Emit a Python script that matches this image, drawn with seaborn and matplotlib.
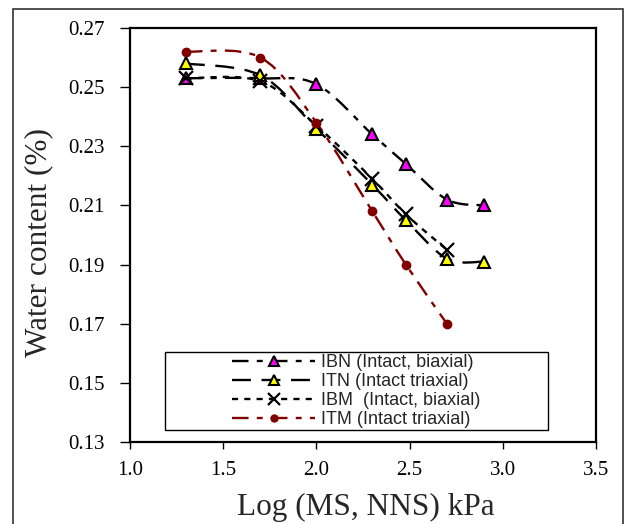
import numpy as np
import pandas as pd
import matplotlib
matplotlib.use("Agg")
import matplotlib.pyplot as plt
import seaborn as sns
from matplotlib.path import Path
from matplotlib.patches import PathPatch, Rectangle
from matplotlib.lines import Line2D

# ---- data ----
x7 = [1.30, 1.70, 2.00, 2.30, 2.48, 2.70, 2.90]
x6 = [1.30, 1.70, 2.00, 2.30, 2.48, 2.70]
ibn = [0.253, 0.253, 0.251, 0.234, 0.224, 0.212, 0.210]
itn = [0.258, 0.254, 0.236, 0.217, 0.205, 0.192, 0.191]
ibm = [0.253, 0.252, 0.237, 0.219, 0.207, 0.195]
itm = [0.262, 0.260, 0.238, 0.208, 0.190, 0.170]
labels = ["IBN (Intact, biaxial)", "ITN (Intact triaxial)",
          "IBM  (Intact, biaxial)", "ITM (Intact triaxial)"]
xticks = [1.0, 1.5, 2.0, 2.5, 3.0, 3.5]
yticks = [0.13, 0.15, 0.17, 0.19, 0.21, 0.23, 0.25, 0.27]

sns.set_theme(style="white")
plt.rcParams['font.family'] = ['Liberation Serif', 'DejaVu Serif']

fig = plt.figure(figsize=(6.3, 5.24), dpi=100)
ax = fig.add_axes([130/630, 82/524, 466/630, 414/524])

def smooth_path(xs, ys):
    p = np.column_stack([xs, ys]).astype(float)
    n = len(p)
    verts = [p[0]]
    codes = [Path.MOVETO]
    for i in range(n - 1):
        p0 = p[i - 1] if i > 0 else p[i]
        p1 = p[i]
        p2 = p[i + 1]
        p3 = p[i + 2] if i + 2 < n else p[i + 1]
        c1 = p1 + (p2 - p0) / 6.0
        c2 = p2 - (p3 - p1) / 6.0
        verts += [c1, c2, p2]
        codes += [Path.CURVE4] * 3
    return Path(verts, codes)

styles = [
    dict(color="black", ls=(0, (7, 3.5, 2.5, 3.5)), lw=1.7, marker="^", mfc="#ff00ff", mec="black", ms=8, mew=1.5),
    dict(color="black", ls=(0, (8, 4.5)), lw=1.7, marker="^", mfc="#ffff00", mec="black", ms=8, mew=1.5),
    dict(color="black", ls=(0, (2.6, 2.6)), lw=1.7, marker="x", mfc="black", mec="black", ms=10, mew=1.6),
    dict(color="#800000", ls=(0, (7, 3.5, 2.5, 3.5)), lw=1.7, marker="o", mfc="#800000", mec="#800000", ms=6, mew=1),
]
series = [(x7, ibn), (x7, itn), (x6, ibm), (x6, itm)]

handles = []
for (xs, ys), st, lab in zip(series, styles, labels):
    patch = PathPatch(smooth_path(xs, ys), fill=False, edgecolor=st["color"],
                      linestyle=st["ls"], lw=st["lw"], zorder=2)
    ax.add_patch(patch)
    df = pd.DataFrame({"x": xs, "y": ys})
    sns.lineplot(data=df, x="x", y="y", ax=ax, linestyle="none",
                 marker=st["marker"], markersize=st["ms"],
                 markerfacecolor=st["mfc"], markeredgecolor=st["mec"],
                 markeredgewidth=st["mew"], color=st["color"], zorder=3)
    handles.append(Line2D([], [], color=st["color"], linestyle=st["ls"], lw=st["lw"],
                          marker=st["marker"], markersize=st["ms"] - 1,
                          markerfacecolor=st["mfc"], markeredgecolor=st["mec"],
                          markeredgewidth=st["mew"]))

ax.set_xlim(1.0, 3.5)
ax.set_ylim(0.13, 0.27)
ax.set_xticks(xticks)
ax.set_yticks(yticks)
ax.set_xticklabels([f"{v:.1f}" for v in xticks])
ax.set_yticklabels([f"{v:.2f}" for v in yticks])
ax.tick_params(axis="both", direction="out", width=1, labelsize=15,
               colors="black", bottom=True, left=True)
ax.tick_params(axis="x", length=5, pad=9)
ax.tick_params(axis="y", length=7, pad=11)
for s in ax.spines.values():
    s.set_color("black")
    s.set_linewidth(1.6)
ax.set_xlabel("Log (MS, NNS) kPa", fontsize=22.5)
ax.set_ylabel("Water content (%)", fontsize=22.5)
ax.xaxis.set_label_coords(0.505, -0.122)
ax.yaxis.set_label_coords(-0.165, 0.483)

# legend frame + centred entries
lx0, ly0, lw_, lh_ = 0.075, 0.029, 0.822, 0.188
ax.add_patch(Rectangle((lx0, ly0), lw_, lh_, transform=ax.transAxes, fill=True,
                       facecolor="white", edgecolor="black", lw=1.0, zorder=4))
leg = ax.legend(handles, labels, loc="center",
                bbox_to_anchor=(lx0 + lw_ / 2, ly0 + lh_ / 2),
                frameon=False, handlelength=4.6, handletextpad=0.35,
                labelspacing=0.11, borderpad=0, borderaxespad=0,
                prop={"family": "Liberation Sans", "size": 13})
leg.set_zorder(5)

# outer frame
fig.patches.append(Rectangle((13/630, -0.05), (623-13)/630, 0.05 + (524-9)/524,
                             transform=fig.transFigure, fill=False,
                             edgecolor="#333333", lw=1.2))

fig.savefig("out.png", dpi=100)
